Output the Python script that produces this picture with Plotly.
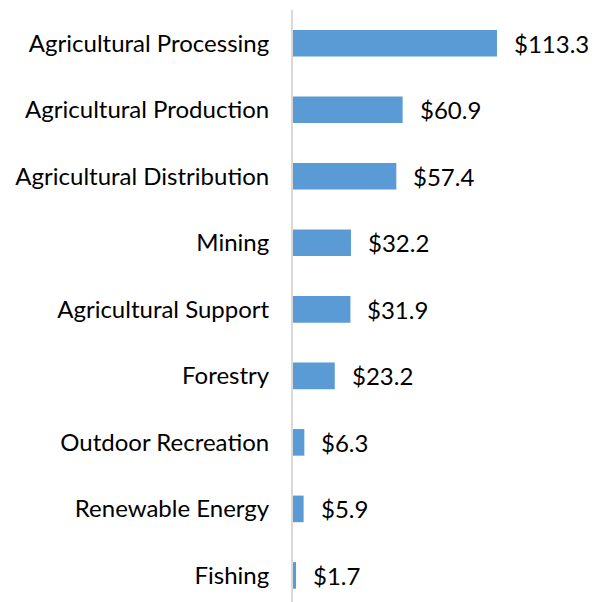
import plotly.graph_objects as go

categories = [
    "Agricultural Processing",
    "Agricultural Production",
    "Agricultural Distribution",
    "Mining",
    "Agricultural Support",
    "Forestry",
    "Outdoor Recreation",
    "Renewable Energy",
    "Fishing",
]
values = [113.3, 60.9, 57.4, 32.2, 31.9, 23.2, 6.3, 5.9, 1.7]
labels = ["$" + f"{v:.1f}" for v in values]

font_family = "Lato, 'Open Sans', sans-serif"
font_size = 24

fig = go.Figure()
fig.add_trace(go.Bar(
    x=values,
    y=categories,
    orientation="h",
    marker=dict(color="#5B9BD5", line=dict(width=0)),
    hoverinfo="x+y",
))

# value labels to the right of each bar
for cat, v, lab in zip(categories, values, labels):
    fig.add_annotation(
        x=v, y=cat, text=lab, showarrow=False,
        xanchor="left", yanchor="middle", xshift=15,
        font=dict(family=font_family, size=font_size, color="#000000"),
    )

# page body has an 8px margin, so the figure is sized to fill the rest
fig.update_layout(
    width=588, height=594,
    margin=dict(l=285, r=0, t=2, b=0, autoexpand=False),
    plot_bgcolor="white",
    paper_bgcolor="white",
    bargap=0.6,
    showlegend=False,
    font=dict(family=font_family, size=font_size, color="#000000"),
)
fig.update_xaxes(
    range=[0, 168.3], visible=False, showgrid=False, zeroline=False,
)
fig.update_yaxes(
    type="category",
    range=[8.4, -0.5],
    automargin=False,
    showline=True, linecolor="#D9D9D9", linewidth=2,
    showgrid=False, zeroline=False,
    ticks="", ticklabelstandoff=17,
    tickfont=dict(family=font_family, size=font_size, color="#000000"),
)

fig.write_html("out.html")
